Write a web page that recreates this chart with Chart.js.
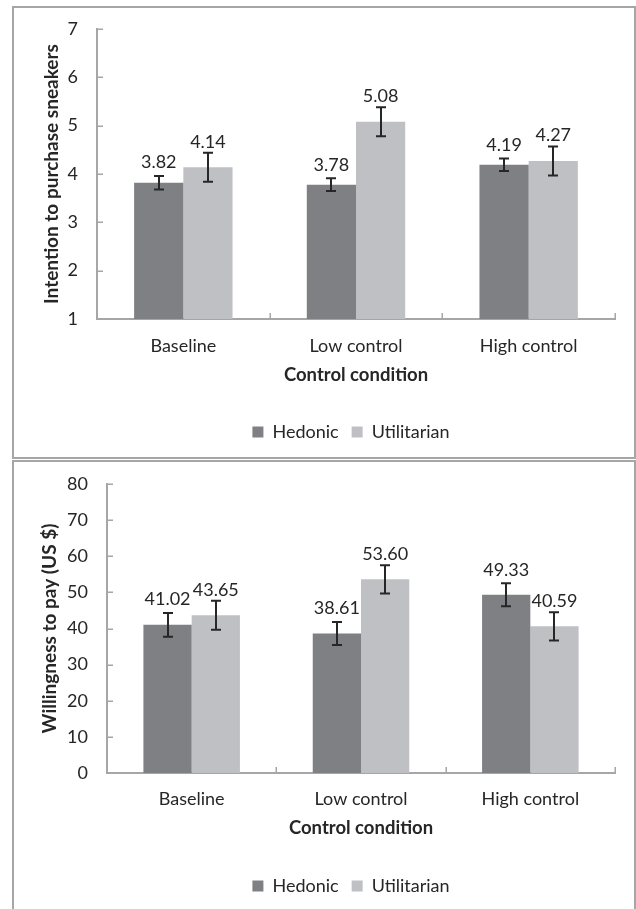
<!DOCTYPE html>
<html><head><meta charset="utf-8">
<script src="https://cdn.jsdelivr.net/npm/chart.js@4.4.1/dist/chart.umd.min.js"></script>
<style>
html,body{margin:0;padding:0;background:#fff;width:636px;height:909px;overflow:hidden;position:relative}
.panel{position:absolute;left:12px;width:624px;box-sizing:border-box;border:2px solid #a6a6a6;background:#fff}
#p1{top:6px;height:453px}
#p2{top:460px;height:449px;border-bottom:none}
canvas{position:absolute;left:0;top:0}
</style></head><body>
<div class="panel" id="p1"><canvas id="c1" width="620" height="449" style="width:620px;height:449px"></canvas></div>
<div class="panel" id="p2"><canvas id="c2" width="620" height="447" style="width:620px;height:447px"></canvas></div>
<script>
const categories = ['Baseline', 'Low control', 'High control'];
const seriesNames = ['Hedonic', 'Utilitarian'];
const intentHedonic = [3.82, 3.78, 4.19];
const intentUtilitarian = [4.14, 5.08, 4.27];
const intentHedonicErr = [0.14, 0.13, 0.13];
const intentUtilitarianErr = [0.30, 0.30, 0.30];
const wtpHedonic = [41.02, 38.61, 49.33];
const wtpUtilitarian = [43.65, 53.60, 40.59];
const wtpHedonicErr = [3.3, 3.2, 3.2];
const wtpUtilitarianErr = [4.0, 3.9, 3.9];
const intentTicks = [1, 2, 3, 4, 5, 6, 7];
const wtpTicks = [0, 10, 20, 30, 40, 50, 60, 70, 80];

const FONT = 'Lato';
const FS = 18;
const TEXT = '#262626';
const AXIS = '#a6a6a6';
const DARK = '#7f8084';
const LIGHT = '#bfc0c4';

const errPlugin = {
  id: 'errLabels',
  afterLayout(chart) {
    const lg = chart.legend;
    if (lg) { lg.left = 73; lg.width = chart.chartArea.right - 73; lg.right = chart.chartArea.right; }
  },
  afterDatasetsDraw(chart) {
    const ctx = chart.ctx, y = chart.scales.y;
    chart.data.datasets.forEach((ds, i) => {
      const meta = chart.getDatasetMeta(i);
      meta.data.forEach((bar, j) => {
        const v = ds.data[j], e = ds.err[j];
        const yt = y.getPixelForValue(v + e), yb = y.getPixelForValue(v - e);
        const x = Math.round(bar.x);
        ctx.save();
        ctx.strokeStyle = '#262626';
        ctx.lineWidth = 2;
        ctx.beginPath();
        ctx.moveTo(x, yt); ctx.lineTo(x, yb);
        ctx.moveTo(x - 5, yt); ctx.lineTo(x + 5, yt);
        ctx.moveTo(x - 5, yb); ctx.lineTo(x + 5, yb);
        ctx.stroke();
        ctx.fillStyle = TEXT;
        ctx.font = FS + 'px ' + FONT;
        ctx.textAlign = 'center';
        ctx.textBaseline = 'middle';
        ctx.fillText(v.toFixed(2), bar.x, yt - ds.labelOffset);
        ctx.restore();
      });
    });
  },
  afterDraw(chart) {
    const ctx = chart.ctx, y = chart.scales.y, x = chart.scales.x, a = chart.chartArea;
    ctx.save();
    ctx.strokeStyle = AXIS;
    ctx.lineWidth = 1.5;
    ctx.beginPath();
    y.ticks.forEach(t => {
      const py = Math.round(y.getPixelForValue(t.value)) + 0.25;
      ctx.moveTo(a.left, py); ctx.lineTo(a.left + 6, py);
    });
    for (let i = 0; i < categories.length; i++) {
      const px = Math.round(x.getPixelForValue(i + 0.5)) + 0.25;
      ctx.moveTo(px, a.bottom); ctx.lineTo(px, a.bottom - 6);
    }
    ctx.stroke();
    ctx.restore();
  }
};

function makeChart(id, cfg) {
  return new Chart(document.getElementById(id), {
    type: 'bar',
    data: {
      labels: categories,
      datasets: [
        { label: seriesNames[0], data: cfg.h, err: cfg.he, labelOffset: 13.5, backgroundColor: DARK, borderWidth: 0 },
        { label: seriesNames[1], data: cfg.u, err: cfg.ue, labelOffset: 11, backgroundColor: LIGHT, borderWidth: 0 }
      ]
    },
    options: {
      responsive: false,
      animation: false,
      events: [],
      layout: { padding: { left: 0, right: 19, top: cfg.padTop, bottom: cfg.padBottom } },
      datasets: { bar: { categoryPercentage: 0.57, barPercentage: 1 } },
      plugins: {
        tooltip: { enabled: false },
        legend: {
          position: 'bottom',
          labels: { boxWidth: 11, boxHeight: 11, padding: 13, color: TEXT, font: { family: FONT, size: FS } }
        }
      },
      scales: {
        x: {
          grid: { display: false, drawTicks: false },
          border: { display: true, color: AXIS, width: 2 },
          ticks: { color: TEXT, padding: cfg.xTickPad, font: { family: FONT, size: FS } },
          title: { display: true, text: 'Control condition', color: TEXT, padding: { top: 0, bottom: cfg.xTitlePad }, font: { family: FONT, size: 18.5, weight: 'bold' } },
          afterFit(s) { s.height = 91; }
        },
        y: {
          min: cfg.ticks[0], max: cfg.ticks[cfg.ticks.length - 1],
          afterBuildTicks(s) { s.ticks = cfg.ticks.map(v => ({ value: v })); },
          grid: { display: false, drawTicks: true, tickLength: 19 },
          border: { display: true, color: AXIS, width: 2 },
          ticks: { color: TEXT, padding: 0, font: { family: FONT, size: FS } },
          title: { display: true, text: cfg.yTitle, color: TEXT, padding: { top: cfg.yTitlePad, bottom: 0 }, font: { family: FONT, size: 19, weight: 'bold' } },
          afterFit(s) { s.width = cfg.yWidth; }
        }
      }
    },
    plugins: [errPlugin]
  });
}

makeChart('c1', {
  h: intentHedonic, u: intentUtilitarian, he: intentHedonicErr, ue: intentUtilitarianErr,
  ticks: intentTicks, yTitle: 'Intention to purchase sneakers',
  padTop: 21, padBottom: 6, yWidth: 83, yTitlePad: 26.6, xTickPad: 16.2, xTitlePad: 23.9
});
makeChart('c2', {
  h: wtpHedonic, u: wtpUtilitarian, he: wtpHedonicErr, ue: wtpUtilitarianErr,
  ticks: wtpTicks, yTitle: 'Willingness to pay (US $)',
  padTop: 22, padBottom: 4, yWidth: 93, yTitlePad: 24.6, xTickPad: 15.2, xTitlePad: 24.6
});
</script>
</body></html>
